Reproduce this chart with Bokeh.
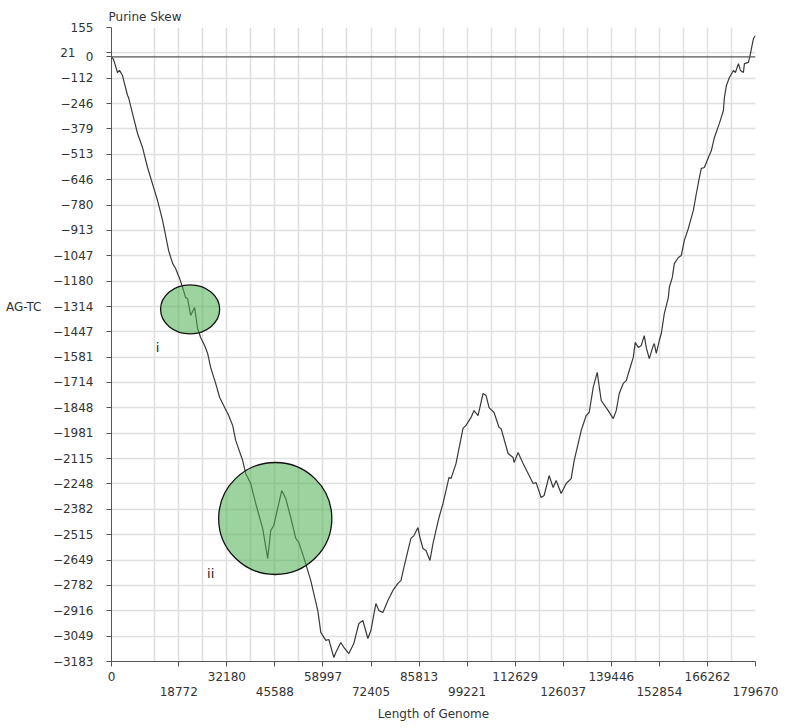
from bokeh.plotting import figure
from bokeh.models import Range1d, FixedTicker, LinearAxis, Span, Label, BasicTickFormatter
from bokeh.embed import file_html
from bokeh.resources import INLINE

# cumulative purine skew (A+G minus T+C) along the genome
genome_pos = [
    0, 559, 1676, 2235, 3073, 4470, 4750, 6147, 7264, 8661, 10058, 11735,
    12852, 14249, 15367, 15926, 17043, 17882, 18999, 19837, 20676, 21234,
    22073, 23190, 24028, 24867, 25984, 26822, 27661, 29058, 30175, 31293,
    32690, 33807, 34646, 36601, 37440, 38837, 40234, 42189, 43586, 44425,
    45263, 47498, 48616, 50013, 51410, 52248, 53645, 55601, 57556, 58395,
    59792, 60630, 62027, 62586, 63983, 64821, 66218, 67615, 69012, 70129,
    71526, 72365, 73762, 74600, 75717, 77114, 78511, 79908, 80747, 81585,
    82702, 83541, 84379, 85496, 86055, 86893, 87732, 88849, 89687, 90526,
    91364, 92481, 93320, 94158, 94717, 96114, 98069, 98908, 100305, 101143,
    102260, 103657, 104496, 105334, 106731, 108128, 108687, 110642, 112039,
    112319, 113436, 114833, 116230, 117627, 118466, 119863, 120701, 122098,
    123215, 124054, 125451, 126848, 128245, 129083, 131039, 132436, 133274,
    134391, 135509, 136627, 138582, 139979, 140818, 141656, 142773, 143612,
    144450, 145568, 146126, 146964, 147803, 148641, 149200, 150038, 151155,
    151435, 151994, 152832, 153391, 154229, 155346, 155626, 156464, 157023,
    158140, 158979, 159817, 160934, 162331, 163170, 164008, 164567, 165405,
    166522, 167361, 168199, 169596, 170713, 170993, 171552, 172390, 173507,
    174066, 174904, 175463, 176301, 176581, 177698, 178257, 179095, 179670,
]
skew = [
    0, -13, -82, -71, -98, -203, -213, -319, -403, -477, -582, -687,
    -756, -861, -966, -1019, -1087, -1114, -1166, -1214, -1267, -1272,
    -1361, -1319, -1430, -1477, -1519, -1561, -1635, -1719, -1793, -1835,
    -1888, -1940, -2019, -2125, -2193, -2246, -2351, -2483, -2641, -2493,
    -2467, -2283, -2325, -2425, -2535, -2556, -2635, -2757, -2915, -3030,
    -3072, -3067, -3162, -3136, -3083, -3109, -3141, -3088, -2983, -2967,
    -3062, -3020, -2878, -2915, -2925, -2862, -2809, -2772, -2757, -2688,
    -2599, -2535, -2520, -2478, -2530, -2588, -2599, -2651, -2562, -2493,
    -2425, -2351, -2283, -2214, -2220, -2141, -1956, -1940, -1898, -1862,
    -1888, -1772, -1782, -1846, -1872, -1951, -1956, -2088, -2109,
    -2135, -2083, -2141, -2193, -2246, -2241, -2320, -2309, -2204,
    -2267, -2230, -2298, -2246, -2220, -2125, -1967, -1888, -1872,
    -1740, -1661, -1809, -1862, -1904, -1862, -1772, -1719, -1704,
    -1651, -1582, -1503, -1530, -1519, -1467, -1530, -1588, -1519,
    -1509, -1561, -1493, -1456, -1351, -1267, -1214, -1161, -1088,
    -1056, -1045, -966, -903, -808, -719, -635, -587, -582,
    -529, -493, -424, -350, -282, -214, -150, -108, -71,
    -82, -35, -71, -82, -35, -29, 18, 97, 113,
]

x_ticks = [0, 18772, 32180, 45588, 58997, 72405, 85813, 99221, 112629,
           126037, 139446, 152854, 166262, 179670]
y_ticks = [155, 21, -112, -246, -379, -513, -646, -780, -913, -1047, -1180,
           -1314, -1447, -1581, -1714, -1848, -1981, -2115, -2248, -2382,
           -2515, -2649, -2782, -2916, -3049, -3183]

# highlighted regions: (label, centre position, centre skew, label position, label skew)
regions = [
    ("i", 21933, -1329, 12852, -1530),
    ("ii", 45682, -2430, 27661, -2720),
]
region_w = [16485, 31570]
region_h = [258, 590]

FONT = "DejaVu Sans"
TXT = "#333333"
AX = "#555555"
FS = "12px"

p = figure(width=799, height=728, output_backend="svg", toolbar_location=None,
           x_range=Range1d(x_ticks[0], x_ticks[-1]),
           y_range=Range1d(y_ticks[-1], y_ticks[0]),
           min_border_left=111, min_border_right=44,
           min_border_top=27, min_border_bottom=67)
p.outline_line_color = None
p.background_fill_color = "white"
p.border_fill_color = "white"

p.title.text = "Purine Skew"
p.title.align = "left"
p.title.offset = -3
p.title.text_font = FONT
p.title.text_font_size = "12px"
p.title.text_font_style = "normal"
p.title.text_color = TXT
p.title.standoff = 7

# grid: every y tick, x ticks plus half steps
step = x_ticks[2] - x_ticks[1]
grid_x = [x_ticks[1] - step / 2] + x_ticks[1:] + [t + step / 2 for t in x_ticks[1:-1]]
p.xgrid.ticker = FixedTicker(ticks=sorted(grid_x))
p.ygrid.ticker = FixedTicker(ticks=y_ticks)
for g in (p.xgrid[0], p.ygrid[0]):
    g.grid_line_color = "#e0e0e0"
    g.grid_line_width = 1.6


def style_labels(ax):
    ax.formatter = BasicTickFormatter(use_scientific=False)
    ax.major_label_text_font = FONT
    ax.major_label_text_font_size = FS
    ax.major_label_text_color = TXT
    ax.minor_tick_line_color = None
    ax.major_tick_in = 0


def bare(ax):
    ax.axis_line_color = None
    ax.major_tick_line_color = None
    ax.major_tick_out = 0


# y axis; the zero line gets its own "0" next to the axis
ya = p.yaxis[0]
ya.ticker = FixedTicker(ticks=y_ticks + [0])
ya.major_label_overrides = {0: "0", 21: "21\u2003\u2002"}
style_labels(ya)
ya.axis_line_color = AX
ya.major_tick_line_color = AX
ya.major_tick_out = 5
ya.major_label_standoff = 13

# horizontal y-axis title beside its row
ytitle = LinearAxis(ticker=FixedTicker(ticks=[-1314]),
                    major_label_overrides={-1314: "AG-TC"})
style_labels(ytitle)
bare(ytitle)
ytitle.major_label_standoff = 8
p.add_layout(ytitle, "left")

# x axis: tick labels alternate between two rows
xa = p.xaxis[0]
xa.ticker = FixedTicker(ticks=x_ticks)
xa.major_label_overrides = {t: "" for t in x_ticks[1::2]}
style_labels(xa)
xa.axis_line_color = AX
xa.major_tick_line_color = AX
xa.major_tick_out = 5
xa.major_label_standoff = 5

xa2 = LinearAxis(ticker=FixedTicker(ticks=x_ticks[1::2]))
style_labels(xa2)
bare(xa2)
xa2.major_label_standoff = 3
xa2.axis_label = "Length of Genome"
xa2.axis_label_text_font = FONT
xa2.axis_label_text_font_size = FS
xa2.axis_label_text_font_style = "normal"
xa2.axis_label_text_color = TXT
xa2.axis_label_standoff = 8
p.add_layout(xa2, "below")

# zero reference line
p.add_layout(Span(location=0, dimension="width", line_color=AX, line_width=1.3))

# skew curve
p.line(genome_pos, skew, line_color="#3a3a3a", line_width=1.2)

# highlighted regions
for (name, cx, cy, lx, ly), w, h in zip(regions, region_w, region_h):
    p.ellipse(x=[cx], y=[cy], width=[w], height=[h],
              fill_color="#4caf50", fill_alpha=0.55,
              line_color="#111111", line_width=1.3)
    p.add_layout(Label(x=lx, y=ly, text=name, text_font=FONT,
                       text_font_size="13px", text_color="#222222",
                       text_align="center", text_baseline="middle"))

open("out.html", "w").write(file_html(p, INLINE))
